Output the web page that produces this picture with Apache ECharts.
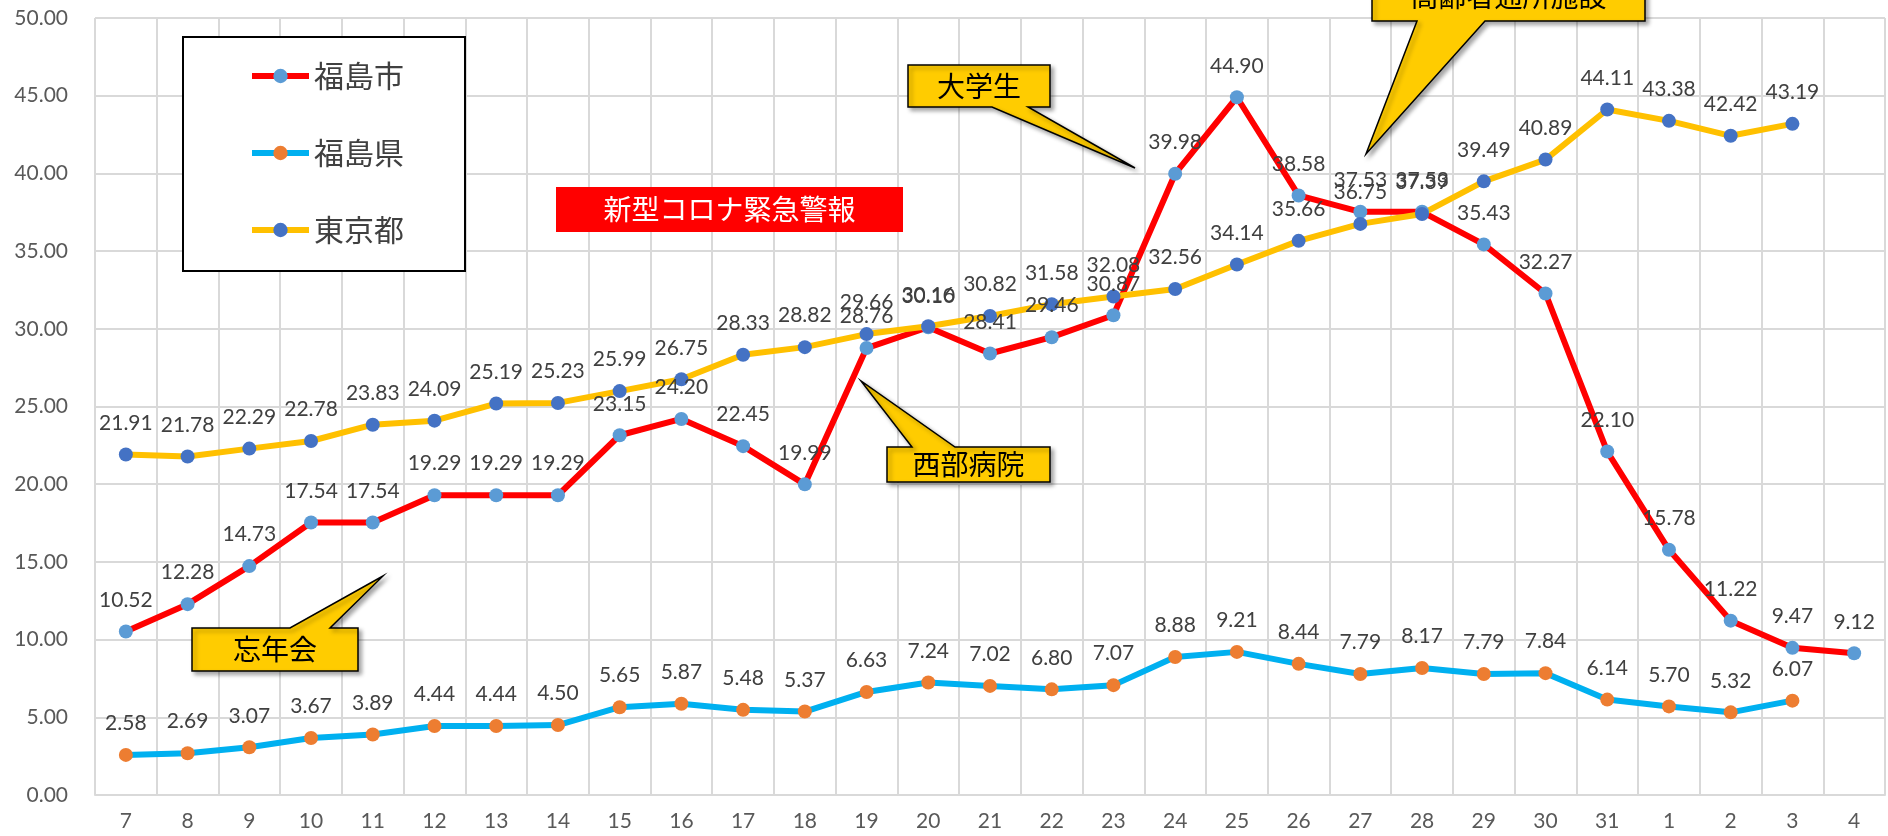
<!DOCTYPE html>
<html>
<head>
<meta charset="utf-8">
<title>福島市・福島県・東京都</title>
<script src="https://cdn.jsdelivr.net/npm/echarts@6/dist/echarts.min.js"></script>
<style>
    html, body { margin: 0; padding: 0; background: #fff; }
    #chart { width: 1888px; height: 836px; }
</style>
</head>
<body>
<div id="chart"></div>
<script>
var days = ["7", "8", "9", "10", "11", "12", "13", "14", "15", "16", "17", "18", "19", "20",
    "21", "22", "23", "24", "25", "26", "27", "28", "29", "30", "31", "1", "2", "3", "4"];

var fukushimaCity = [10.52, 12.28, 14.73, 17.54, 17.54, 19.29, 19.29, 19.29, 23.15, 24.20,
    22.45, 19.99, 28.76, 30.10, 28.41, 29.46, 30.87, 39.98, 44.90, 38.58,
    37.53, 37.53, 35.43, 32.27, 22.10, 15.78, 11.22, 9.47, 9.12];

var fukushimaPref = [2.58, 2.69, 3.07, 3.67, 3.89, 4.44, 4.44, 4.50, 5.65, 5.87,
    5.48, 5.37, 6.63, 7.24, 7.02, 6.80, 7.07, 8.88, 9.21, 8.44,
    7.79, 8.17, 7.79, 7.84, 6.14, 5.70, 5.32, 6.07, null];

var tokyo = [21.91, 21.78, 22.29, 22.78, 23.83, 24.09, 25.19, 25.23, 25.99, 26.75,
    28.33, 28.82, 29.66, 30.16, 30.82, 31.58, 32.08, 32.56, 34.14, 35.66,
    36.75, 37.39, 39.49, 40.89, 44.11, 43.38, 42.42, 43.19, null];

var numFont = 'Lato, "Noto Sans", sans-serif';
var jpFont = '"Noto Sans CJK JP", sans-serif';

var chart = echarts.init(document.getElementById('chart'));

function lineSeries(name, data, lineColor, dotColor) {
    return {
        name: name,
        type: 'line',
        data: data,
        symbol: 'circle',
        symbolSize: 14,
        showAllSymbol: true,
        lineStyle: { color: lineColor, width: 6 },
        itemStyle: { color: dotColor },
        label: {
            show: true,
            position: 'top',
            distance: 14,
            color: '#404040',
            fontSize: 21,
            fontFamily: numFont,
            formatter: function (p) {
                return p.value == null ? '' : p.value.toFixed(2);
            }
        },
        emphasis: { disabled: true }
    };
}

// 吹き出し (box = [left, top, right, bottom], base = wedge start/end on the edge)
function callout(box, base, tip, text, wedgeOnTop) {
    var l = box[0], t = box[1], r = box[2], b = box[3];
    var pts;
    if (wedgeOnTop) {
        pts = [[l, t], [base[0], t], tip, [base[1], t], [r, t], [r, b], [l, b]];
    } else {
        pts = [[l, t], [r, t], [r, b], [base[1], b], tip, [base[0], b], [l, b]];
    }
    return [
        {
            type: 'polygon',
            shape: { points: pts },
            style: {
                fill: '#FFCC00', stroke: '#000', lineWidth: 1.5,
                shadowBlur: 4, shadowOffsetX: 3, shadowOffsetY: 3,
                shadowColor: 'rgba(0,0,0,0.35)'
            },
            z: 100
        },
        {
            type: 'text',
            x: (l + r) / 2,
            y: (t + b) / 2,
            style: {
                text: text, fill: '#000', font: '28px ' + jpFont,
                align: 'center', verticalAlign: 'middle'
            },
            z: 101
        }
    ];
}

var notes = [].concat(
    callout([192, 628, 358, 671], [290, 330], [383, 576], '忘年会', true),
    callout([887, 447, 1050, 482], [912, 955], [861, 381], '西部病院', true),
    callout([908, 65, 1050, 107], [992, 1028], [1135, 168], '大学生', false),
    callout([1372, -28, 1645, 21], [1417, 1485], [1366, 154], '高齢者通所施設', false),
    [
        {
            type: 'rect',
            shape: { x: 556, y: 187, width: 347, height: 45 },
            style: { fill: '#FF0000' },
            z: 100
        },
        {
            type: 'text',
            x: 729.5,
            y: 209.5,
            style: {
                text: '新型コロナ緊急警報', fill: '#fff', font: '28px ' + jpFont,
                align: 'center', verticalAlign: 'middle'
            },
            z: 101
        }
    ]
);

var option = {
    animation: false,
    backgroundColor: '#fff',
    grid: { left: 95, right: 3, top: 18, bottom: 41 },
    legend: {
        orient: 'vertical',
        left: 183,
        top: 37,
        padding: [24, 61, 26, 66],
        itemGap: 47,
        itemWidth: 57,
        itemHeight: 18,
        borderColor: '#000',
        borderWidth: 2,
        backgroundColor: '#fff',
        lineStyle: { width: 6 },
        textStyle: { fontSize: 30, color: '#404040', fontFamily: jpFont },
        data: ['福島市', '福島県', '東京都']
    },
    xAxis: {
        type: 'category',
        data: days,
        boundaryGap: true,
        axisLine: { lineStyle: { color: '#D9D9D9', width: 2 } },
        axisTick: { show: false },
        splitLine: { show: true, lineStyle: { color: '#D9D9D9', width: 2 } },
        axisLabel: { color: '#595959', fontSize: 21, fontFamily: numFont, margin: 16, interval: 0 }
    },
    yAxis: {
        type: 'value',
        min: 0,
        max: 50,
        interval: 5,
        axisLine: { show: false },
        axisTick: { show: false },
        splitLine: { lineStyle: { color: '#D9D9D9', width: 2 } },
        axisLabel: {
            color: '#595959', fontSize: 21, fontFamily: numFont, margin: 27,
            formatter: function (v) { return v.toFixed(2); }
        }
    },
    series: [
        lineSeries('福島市', fukushimaCity, '#FF0000', '#5B9BD5'),
        lineSeries('福島県', fukushimaPref, '#00B0F0', '#ED7D31'),
        lineSeries('東京都', tokyo, '#FFC000', '#4472C4')
    ],
    graphic: notes
};

chart.setOption(option);
window.addEventListener('resize', function () {
    chart.resize();
});
</script>
</body>
</html>
